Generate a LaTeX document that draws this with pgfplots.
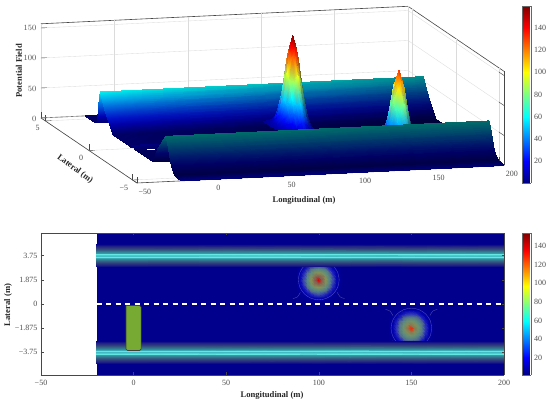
\documentclass[border=0pt]{standalone}
\usepackage{pgfplots}
\usepackage{pgfplotstable}
\usepackage{fontspec}
\setmainfont{Liberation Serif}
\pgfplotsset{compat=1.18}
\pgfplotstableset{row sep=\\}
\pgfmathdeclarefunction{clipo}{1}{\pgfmathparse{min(1,max(0,#1))}}
\pgfmathdeclarefunction{jr}{1}{\pgfmathparse{min(1,max(0,1.5-abs(4*#1-3)))}}
\pgfmathdeclarefunction{jg}{1}{\pgfmathparse{min(1,max(0,1.5-abs(4*#1-2)))}}
\pgfmathdeclarefunction{jb}{1}{\pgfmathparse{min(1,max(0,1.5-abs(4*#1-1)))}}
\pgfmathdeclarefunction{tt}{1}{\pgfmathparse{(#1+3.5)/160}}
\pgfmathdeclarefunction{tb}{1}{\pgfmathparse{(min(#1,138)+2)/154}}
\pgfmathdeclarefunction{ara}{1}{\pgfmathparse{.8*min(1,max(0,(#1-5)/22))*min(1,max(0,(155-#1)/15))}}
\pgfmathdeclarefunction{arb}{1}{\pgfmathparse{.8*min(1,max(0,(#1-5)/22))*min(1,max(0,(128-#1)/13))}}
\pgfmathdeclarefunction{sback}{1}{\pgfmathparse{.95-.4*(#1+20)/220}}
\pgfmathdeclarefunction{sfront}{1}{\pgfmathparse{.42+.4*min(1,max(0,(-5.2-#1)/.3))}}
\pgfplotsset{
 litsurf/.style={surf,shader=interp,z buffer=sort,mesh/color input=explicit mathparse,
   point meta={symbolic={(#1)*jr(tt(\thisrow{z})),(#1)*jg(tt(\thisrow{z})),(#1)*jb(tt(\thisrow{z}))}}},
 blendsurf/.style={surf,shader=interp,mesh/rows=12,mesh/cols=13,mesh/color input=explicit mathparse,
   point meta={symbolic={(1-#1(\thisrow{z}))*jr(tb(\thisrow{z}))+#1(\thisrow{z})*.42,
     (1-#1(\thisrow{z}))*jg(tb(\thisrow{z}))+#1(\thisrow{z})*.46,
     (1-#1(\thisrow{z}))*jb(tb(\thisrow{z}))+#1(\thisrow{z})*.40}}},
 tinysurf/.style={surf,shader=interp,mesh/color input=explicit mathparse,
   point meta={symbolic={\thisrow{r},\thisrow{g},\thisrow{b}}}},
 contourline/.style={smooth,white,opacity=.3,line width=.35pt},
 every tick label/.append style={font=\fontsize{8}{9}\selectfont,text=black!70},
}
\definecolor{veh}{RGB}{118,170,50}
% ---- data ----
\pgfplotstableread{x y z\\
-20 5.5 0\\ 200 5.5 0\\
-20 4.5 0\\ 200 4.5 0\\
-20 4.25 1\\ 200 4.25 1\\
-20 4.13 3\\ 200 4.13 3\\
-20 4.03 14\\ 200 4.03 14\\
-20 3.9 38\\ 200 3.9 38\\
-20 3.75 57\\ 200 3.75 57\\
-20 3.53 46\\ 200 3.53 46\\
-20 3.31 36\\ 200 3.31 36\\
-20 3.09 27\\ 200 3.09 27\\
-20 2.87 20\\ 200 2.87 20\\
-20 2.65 12\\ 200 2.65 12\\
-20 2.43 5\\ 200 2.43 5\\
-20 2.27 0\\ 200 2.27 0\\
-20 .2 0\\ 200 .2 0\\
-20 .1 4\\ 200 .1 4\\
-20 0 5\\ 200 0 5\\
-20 -.1 4\\ 200 -.1 4\\
-20 -.2 0\\ 200 -.2 0\\
}\backstrip
\pgfplotstableread{x y z\\
-20 -.2 0\\ 200 -.2 0\\
-20 -2.27 0\\ 200 -2.27 0\\
}\midstrip
\pgfplotstableread{x y z\\
-20 -2.27 0\\ 200 -2.27 0\\
-20 -2.43 6\\ 200 -2.43 6\\
-20 -2.65 18\\ 200 -2.65 18\\
-20 -2.87 28\\ 200 -2.87 28\\
-20 -3.09 35\\ 200 -3.09 35\\
-20 -3.31 42\\ 200 -3.31 42\\
-20 -3.53 50\\ 200 -3.53 50\\
-20 -3.75 57\\ 200 -3.75 57\\
-20 -3.92 50\\ 200 -3.92 50\\
-20 -4.08 38\\ 200 -4.08 38\\
-20 -4.25 25\\ 200 -4.25 25\\
-20 -4.41 14\\ 200 -4.41 14\\
-20 -4.63 6\\ 200 -4.63 6\\
-20 -4.85 2\\ 200 -4.85 2\\
-20 -5.5 0\\ 200 -5.5 0\\
}\frontstrip
\pgfplotstableread{x y z\\
86.2 -.105 0\\ 88.5 -.105 .1\\ 90.8 -.105 .2\\ 93.1 -.105 .6\\ 95.4 -.105 1\\ 97.7 -.105 1.5\\ 100 -.105 1.7\\ 102.3 -.105 1.5\\ 104.6 -.105 1\\ 106.9 -.105 .6\\ 109.2 -.105 .2\\ 111.5 -.105 .1\\ 113.8 -.105 0\\
86.2 .225 .1\\ 88.5 .225 .3\\ 90.8 .225 .9\\ 93.1 .225 2.2\\ 95.4 .225 4.1\\ 97.7 .225 6\\ 100 .225 6.8\\ 102.3 .225 6\\ 104.6 .225 4.1\\ 106.9 .225 2.2\\ 109.2 .225 .9\\ 111.5 .225 .3\\ 113.8 .225 .1\\
86.2 .555 .2\\ 88.5 .555 .9\\ 90.8 .555 2.8\\ 93.1 .555 6.8\\ 95.4 .555 12.7\\ 97.7 .555 18.5\\ 100 .555 21\\ 102.3 .555 18.5\\ 104.6 .555 12.7\\ 106.9 .555 6.8\\ 109.2 .555 2.8\\ 111.5 .555 .9\\ 113.8 .555 .2\\
86.2 .885 .6\\ 88.5 .885 2.2\\ 90.8 .885 6.8\\ 93.1 .885 16.3\\ 95.4 .885 30.5\\ 97.7 .885 44.4\\ 100 .885 50.3\\ 102.3 .885 44.4\\ 104.6 .885 30.5\\ 106.9 .885 16.3\\ 109.2 .885 6.8\\ 111.5 .885 2.2\\ 113.8 .885 .6\\
86.2 1.215 1\\ 88.5 1.215 4.1\\ 90.8 1.215 12.7\\ 93.1 1.215 30.5\\ 95.4 1.215 57\\ 97.7 1.215 83\\ 100 1.215 94\\ 102.3 1.215 83\\ 104.6 1.215 57\\ 106.9 1.215 30.5\\ 109.2 1.215 12.7\\ 111.5 1.215 4.1\\ 113.8 1.215 1\\
86.2 1.545 1.5\\ 88.5 1.545 6\\ 90.8 1.545 18.5\\ 93.1 1.545 44.4\\ 95.4 1.545 83\\ 97.7 1.545 120.7\\ 100 1.545 136.8\\ 102.3 1.545 120.7\\ 104.6 1.545 83\\ 106.9 1.545 44.4\\ 109.2 1.545 18.5\\ 111.5 1.545 6\\ 113.8 1.545 1.5\\
86.2 1.875 1.7\\ 88.5 1.875 6.8\\ 90.8 1.875 21\\ 93.1 1.875 50.3\\ 95.4 1.875 94\\ 97.7 1.875 136.8\\ 100 1.875 155\\ 102.3 1.875 136.8\\ 104.6 1.875 94\\ 106.9 1.875 50.3\\ 109.2 1.875 21\\ 111.5 1.875 6.8\\ 113.8 1.875 1.7\\
86.2 2.205 1.5\\ 88.5 2.205 6\\ 90.8 2.205 18.5\\ 93.1 2.205 44.4\\ 95.4 2.205 83\\ 97.7 2.205 120.7\\ 100 2.205 136.8\\ 102.3 2.205 120.7\\ 104.6 2.205 83\\ 106.9 2.205 44.4\\ 109.2 2.205 18.5\\ 111.5 2.205 6\\ 113.8 2.205 1.5\\
86.2 2.535 1\\ 88.5 2.535 4.1\\ 90.8 2.535 12.7\\ 93.1 2.535 30.5\\ 95.4 2.535 57\\ 97.7 2.535 83\\ 100 2.535 94\\ 102.3 2.535 83\\ 104.6 2.535 57\\ 106.9 2.535 30.5\\ 109.2 2.535 12.7\\ 111.5 2.535 4.1\\ 113.8 2.535 1\\
86.2 2.865 .6\\ 88.5 2.865 2.2\\ 90.8 2.865 6.8\\ 93.1 2.865 16.3\\ 95.4 2.865 30.5\\ 97.7 2.865 44.4\\ 100 2.865 50.3\\ 102.3 2.865 44.4\\ 104.6 2.865 30.5\\ 106.9 2.865 16.3\\ 109.2 2.865 6.8\\ 111.5 2.865 2.2\\ 113.8 2.865 .6\\
86.2 3.195 .2\\ 88.5 3.195 .9\\ 90.8 3.195 2.8\\ 93.1 3.195 6.8\\ 95.4 3.195 12.7\\ 97.7 3.195 18.5\\ 100 3.195 21\\ 102.3 3.195 18.5\\ 104.6 3.195 12.7\\ 106.9 3.195 6.8\\ 109.2 3.195 2.8\\ 111.5 3.195 .9\\ 113.8 3.195 .2\\
86.2 3.525 .1\\ 88.5 3.525 .3\\ 90.8 3.525 .9\\ 93.1 3.525 2.2\\ 95.4 3.525 4.1\\ 97.7 3.525 6\\ 100 3.525 6.8\\ 102.3 3.525 6\\ 104.6 3.525 4.1\\ 106.9 3.525 2.2\\ 109.2 3.525 .9\\ 111.5 3.525 .3\\ 113.8 3.525 .1\\
}\peakone
\pgfplotstableread{x y z\\
136.2 -3.525 .1\\ 138.5 -3.525 .2\\ 140.8 -3.525 .8\\ 143.1 -3.525 1.8\\ 145.4 -3.525 3.4\\ 147.7 -3.525 5\\ 150 -3.525 5.6\\ 152.3 -3.525 5\\ 154.6 -3.525 3.4\\ 156.9 -3.525 1.8\\ 159.2 -3.525 .8\\ 161.5 -3.525 .2\\ 163.8 -3.525 .1\\
136.2 -3.195 .2\\ 138.5 -3.195 .8\\ 140.8 -3.195 2.3\\ 143.1 -3.195 5.6\\ 145.4 -3.195 10.5\\ 147.7 -3.195 15.3\\ 150 -3.195 17.3\\ 152.3 -3.195 15.3\\ 154.6 -3.195 10.5\\ 156.9 -3.195 5.6\\ 159.2 -3.195 2.3\\ 161.5 -3.195 .8\\ 163.8 -3.195 .2\\
136.2 -2.865 .5\\ 138.5 -2.865 1.8\\ 140.8 -2.865 5.6\\ 143.1 -2.865 13.5\\ 145.4 -2.865 25.2\\ 147.7 -2.865 36.7\\ 150 -2.865 41.6\\ 152.3 -2.865 36.7\\ 154.6 -2.865 25.2\\ 156.9 -2.865 13.5\\ 159.2 -2.865 5.6\\ 161.5 -2.865 1.8\\ 163.8 -2.865 .5\\
136.2 -2.535 .9\\ 138.5 -2.535 3.4\\ 140.8 -2.535 10.5\\ 143.1 -2.535 25.2\\ 145.4 -2.535 47.1\\ 147.7 -2.535 68.5\\ 150 -2.535 77.6\\ 152.3 -2.535 68.5\\ 154.6 -2.535 47.1\\ 156.9 -2.535 25.2\\ 159.2 -2.535 10.5\\ 161.5 -2.535 3.4\\ 163.8 -2.535 .9\\
136.2 -2.205 1.3\\ 138.5 -2.205 5\\ 140.8 -2.205 15.3\\ 143.1 -2.205 36.7\\ 145.4 -2.205 68.5\\ 147.7 -2.205 99.7\\ 150 -2.205 113\\ 152.3 -2.205 99.7\\ 154.6 -2.205 68.5\\ 156.9 -2.205 36.7\\ 159.2 -2.205 15.3\\ 161.5 -2.205 5\\ 163.8 -2.205 1.3\\
136.2 -1.875 1.4\\ 138.5 -1.875 5.6\\ 140.8 -1.875 17.3\\ 143.1 -1.875 41.6\\ 145.4 -1.875 77.6\\ 147.7 -1.875 113\\ 150 -1.875 128\\ 152.3 -1.875 113\\ 154.6 -1.875 77.6\\ 156.9 -1.875 41.6\\ 159.2 -1.875 17.3\\ 161.5 -1.875 5.6\\ 163.8 -1.875 1.4\\
136.2 -1.545 1.3\\ 138.5 -1.545 5\\ 140.8 -1.545 15.3\\ 143.1 -1.545 36.7\\ 145.4 -1.545 68.5\\ 147.7 -1.545 99.7\\ 150 -1.545 113\\ 152.3 -1.545 99.7\\ 154.6 -1.545 68.5\\ 156.9 -1.545 36.7\\ 159.2 -1.545 15.3\\ 161.5 -1.545 5\\ 163.8 -1.545 1.3\\
136.2 -1.215 .9\\ 138.5 -1.215 3.4\\ 140.8 -1.215 10.5\\ 143.1 -1.215 25.2\\ 145.4 -1.215 47.1\\ 147.7 -1.215 68.5\\ 150 -1.215 77.6\\ 152.3 -1.215 68.5\\ 154.6 -1.215 47.1\\ 156.9 -1.215 25.2\\ 159.2 -1.215 10.5\\ 161.5 -1.215 3.4\\ 163.8 -1.215 .9\\
136.2 -.885 .5\\ 138.5 -.885 1.8\\ 140.8 -.885 5.6\\ 143.1 -.885 13.5\\ 145.4 -.885 25.2\\ 147.7 -.885 36.7\\ 150 -.885 41.6\\ 152.3 -.885 36.7\\ 154.6 -.885 25.2\\ 156.9 -.885 13.5\\ 159.2 -.885 5.6\\ 161.5 -.885 1.8\\ 163.8 -.885 .5\\
136.2 -.555 .2\\ 138.5 -.555 .8\\ 140.8 -.555 2.3\\ 143.1 -.555 5.6\\ 145.4 -.555 10.5\\ 147.7 -.555 15.3\\ 150 -.555 17.3\\ 152.3 -.555 15.3\\ 154.6 -.555 10.5\\ 156.9 -.555 5.6\\ 159.2 -.555 2.3\\ 161.5 -.555 .8\\ 163.8 -.555 .2\\
136.2 -.225 .1\\ 138.5 -.225 .2\\ 140.8 -.225 .8\\ 143.1 -.225 1.8\\ 145.4 -.225 3.4\\ 147.7 -.225 5\\ 150 -.225 5.6\\ 152.3 -.225 5\\ 154.6 -.225 3.4\\ 156.9 -.225 1.8\\ 159.2 -.225 .8\\ 161.5 -.225 .2\\ 163.8 -.225 .1\\
136.2 -.105 0\\ 138.5 -.105 .1\\ 140.8 -.105 .2\\ 143.1 -.105 .5\\ 145.4 -.105 .9\\ 147.7 -.105 1.3\\ 150 -.105 1.4\\ 152.3 -.105 1.3\\ 154.6 -.105 .9\\ 156.9 -.105 .5\\ 159.2 -.105 .2\\ 161.5 -.105 .1\\ 163.8 -.105 0\\
}\peaktwo
\pgfplotstableread{x d z r g b\\
-20 -.88 0 0 0 .55\\ 200 -.88 0 0 0 .55\\
-20 -.78 4 .1 .1 .52\\ 200 -.78 4 .1 .1 .52\\
-20 -.6 14 .18 .22 .5\\ 200 -.6 14 .18 .22 .5\\
-20 -.45 24 .2 .35 .5\\ 200 -.45 24 .2 .35 .5\\
-20 -.3 36 .2 .5 .58\\ 200 -.3 36 .2 .5 .58\\
-20 -.2 44 .18 .62 .66\\ 200 -.2 44 .18 .62 .66\\
-20 -.12 50 .4 .92 .9\\ 200 -.12 50 .4 .92 .9\\
-20 -.06 53 .35 .85 .85\\ 200 -.06 53 .35 .85 .85\\
-20 0 55 .15 .62 .68\\ 200 0 55 .15 .62 .68\\
-20 .06 53 .35 .85 .85\\ 200 .06 53 .35 .85 .85\\
-20 .12 50 .4 .92 .9\\ 200 .12 50 .4 .92 .9\\
-20 .2 44 .18 .62 .66\\ 200 .2 44 .18 .62 .66\\
-20 .3 36 .2 .5 .58\\ 200 .3 36 .2 .5 .58\\
-20 .45 24 .2 .35 .5\\ 200 .45 24 .2 .35 .5\\
-20 .6 14 .18 .22 .5\\ 200 .6 14 .18 .22 .5\\
-20 .78 4 .1 .1 .52\\ 200 .78 4 .1 .1 .52\\
-20 .88 0 0 0 .55\\ 200 .88 0 0 0 .55\\
}\band
\pgfplotstableread{x y z\\
0 0 0\\ 1 0 0\\
0 20 20\\ 1 20 20\\
0 40 40\\ 1 40 40\\
0 60 60\\ 1 60 60\\
0 80 80\\ 1 80 80\\
0 100 100\\ 1 100 100\\
0 120 120\\ 1 120 120\\
0 140 140\\ 1 140 140\\
0 160 160\\ 1 160 160\\
}\cbartop
\pgfplotstableread{x y z\\
0 1.3 1.3\\ 1 1.3 1.3\\
0 20 20\\ 1 20 20\\
0 40 40\\ 1 40 40\\
0 60 60\\ 1 60 60\\
0 80 80\\ 1 80 80\\
0 100 100\\ 1 100 100\\
0 120 120\\ 1 120 120\\
0 140 140\\ 1 140 140\\
0 154 154\\ 1 154 154\\
}\cbarbot
\begin{document}
\begin{tikzpicture}[x=1pt,y=1pt]
\path[use as bounding box] (0,0) rectangle (550,404);
% ---------- top 3D axis ----------
\begin{axis}[at={(41pt,221pt)},anchor=south west,
  x={(1.468pt,0.07pt)},y={(-8.727pt,5.909pt)},z={(0pt,0.6pt)},
  xmin=-50,xmax=200,ymin=-5.5,ymax=5.5,zmin=0,zmax=157,
  xtick={-50,0,50,100,150,200},ytick={-5,0,5},ztick={0,50,100,150},
  xticklabels={−50,0,50,100,150,200},yticklabels={−5,0,5},
  xtick pos=left,ytick pos=left,ztick pos=left,
  major tick length=6pt,
  xticklabel style={xshift=4.5pt,yshift=-2pt},
  zticklabel style={xshift=-1pt,yshift=-3pt},
  yticklabel style={xshift=-2pt,yshift=-1pt},
  grid=major,grid style={black!14,line width=.35pt},
  axis line style={black!72,line width=.6pt},
  tick style={black!72,line width=.4pt},
  clip=false]
\addplot3[litsurf={sback(\thisrow{x})*(.72+.28*clipo(\thisrow{z}/50))},mesh/rows=19,mesh/cols=2] table[x=x,y=y,z=z]{\backstrip};
\addplot3[litsurf={(1-.65*clipo((\thisrow{x}-100)/6)*clipo(\thisrow{z}/25))},mesh/rows=12,mesh/cols=13] table[x expr=100+(\thisrow{x}-100)*.86,y expr=1.875+(\thisrow{y}-1.875)*.86,z=z]{\peakone};
\addplot3[litsurf={.6},mesh/rows=2,mesh/cols=2] table[x=x,y=y,z=z]{\midstrip};
\addplot3[litsurf={(1-.65*clipo((\thisrow{x}-150)/6)*clipo(\thisrow{z}/25))},mesh/rows=12,mesh/cols=13] table[x expr=150+(\thisrow{x}-150)*.86,y expr=-1.875+(\thisrow{y}+1.875)*.86,z=z]{\peaktwo};
\addplot3[litsurf={sfront(\thisrow{y})},mesh/rows=15,mesh/cols=2] table[x=x,y=y,z=z]{\frontstrip};
\end{axis}
% ---------- top colourbar ----------
\begin{axis}[at={(522.3pt,221pt)},anchor=south west,scale only axis,width=8.4pt,height=177pt,
  view={0}{90},xmin=0,xmax=1,ymin=0,ymax=160,xtick=\empty,ytick={20,40,...,140},
  ytick pos=right,yticklabel pos=right,tick style={draw=none},
  axis line style={black!60,line width=.3pt},
  /pgf/number format/assume math mode=true]
\addplot3[surf,shader=interp,colormap/jet,point meta=z,mesh/rows=9,mesh/cols=2] table[x=x,y=y,z=z]{\cbartop};
\end{axis}
% ---------- bottom plan view ----------
\begin{axis}[at={(41pt,29pt)},anchor=south west,scale only axis,width=463pt,height=142pt,
  view={0}{90},xmin=-50,xmax=200,ymin=-5.5,ymax=5.5,
  xtick={-50,0,50,100,150,200},xticklabels={−50,0,50,100,150,200},
  ytick={-3.75,-1.875,0,1.875,3.75},yticklabels={−3.75,−1.875,0,1.875,3.75},
  xticklabel style={yshift=-2pt},
  axis line style={black!72,line width=.6pt},
  tick style={black!72,line width=.4pt},major tick length=2.5pt,
  axis on top]
\addplot3[surf,shader=interp,mesh/rows=2,mesh/cols=2,mesh/color input=explicit mathparse,
  point meta={symbolic={0,0,.55}}] table[x=x,y=y,z=z]{x y z\\-20 -5.5 0\\200 -5.5 0\\-20 5.5 0\\200 5.5 0\\};
\addplot3[blendsurf=ara] table[x expr=100+(\thisrow{x}-100)*.85,y expr=1.875+(\thisrow{y}-1.875)*.85,z=z]{\peakone};
\addplot3[blendsurf=arb] table[x expr=150+(\thisrow{x}-150)*.85,y expr=-1.875+(\thisrow{y}+1.875)*.85,z=z]{\peaktwo};
\addplot3[contourline] coordinates {(110.16,2.468,0)(107.78,2.971,0)(104.21,3.307,0)(100,3.425,0)(95.79,3.307,0)(92.22,2.971,0)(89.84,2.468,0)(89,1.875,0)(89.84,1.282,0)(92.22,.779,0)(95.79,.443,0)(100,.325,0)(104.21,.443,0)(107.78,.779,0)(110.16,1.282,0)(111,1.875,0)(110.16,2.468,0)};
\addplot3[contourline] coordinates {(86,.42,0)(88.5,.55,0)(90,.9,0)};
\addplot3[contourline] coordinates {(114,.42,0)(111.5,.55,0)(110,.9,0)};
\addplot3[contourline] coordinates {(161,-1.875,0)(160.16,-1.282,0)(157.78,-.779,0)(154.21,-.443,0)(150,-.325,0)(145.79,-.443,0)(142.22,-.779,0)(139.84,-1.282,0)(139,-1.875,0)(139.84,-2.468,0)(142.22,-2.971,0)(145.79,-3.307,0)(150,-3.425,0)(154.21,-3.307,0)(157.78,-2.971,0)(160.16,-2.468,0)(161,-1.875,0)};
\addplot3[contourline] coordinates {(136,-3.3,0)(138.5,-3.2,0)(140,-2.85,0)};
\addplot3[contourline] coordinates {(164,-3.3,0)(161.5,-3.2,0)(160,-2.85,0)};
\addplot3[contourline] coordinates {(136,-.42,0)(138.5,-.55,0)(140,-.9,0)};
\addplot3[contourline] coordinates {(164,-.42,0)(161.5,-.55,0)(160,-.9,0)};
\addplot3[tinysurf,mesh/rows=17,mesh/cols=2] table[x=x,y expr=\thisrow{d}+3.75,z=z]{\band};
\addplot3[tinysurf,mesh/rows=17,mesh/cols=2] table[x=x,y expr=\thisrow{d}-3.75,z=z]{\band};
\addplot3[white,line width=1.1pt,dash pattern=on 5pt off 4.5pt] coordinates {(-20,0,0)(200,0,0)};
\addplot3[fill=veh,draw=black!75,line width=.6pt,rounded corners=1.5pt] coordinates {(-4.1,-.12,0)(4.1,-.12,0)(4.1,-3.6,0)(-4.1,-3.6,0)(-4.1,-.12,0)};
\end{axis}
% ---------- bottom colourbar ----------
\begin{axis}[at={(522.3pt,29pt)},anchor=south west,scale only axis,width=8.4pt,height=142pt,
  view={0}{90},xmin=0,xmax=1,ymin=1.3,ymax=154,xtick=\empty,ytick={20,40,...,140},
  ytick pos=right,yticklabel pos=right,tick style={draw=none},
  axis line style={black!60,line width=.3pt},
  /pgf/number format/assume math mode=true]
\addplot3[surf,shader=interp,colormap/jet,point meta=z,mesh/rows=9,mesh/cols=2] table[x=x,y=y,z=z]{\cbarbot};
\end{axis}
% ---------- axis titles ----------
\node[font=\fontsize{8.6}{10}\bfseries\selectfont,text=black!85] at (304,204) {Longitudinal (m)};
\node[font=\fontsize{8.6}{10}\bfseries\selectfont,text=black!85,rotate=90] at (19,333) {Potential Field};
\node[font=\fontsize{8.6}{10}\bfseries\selectfont,text=black!85,rotate=-36.5] at (75,235) {Lateral (m)};
\node[font=\fontsize{8.6}{10}\bfseries\selectfont,text=black!85] at (272,9) {Longitudinal (m)};
\node[font=\fontsize{8.6}{10}\bfseries\selectfont,text=black!85,rotate=90] at (8,99) {Lateral (m)};
\end{tikzpicture}
\end{document}
